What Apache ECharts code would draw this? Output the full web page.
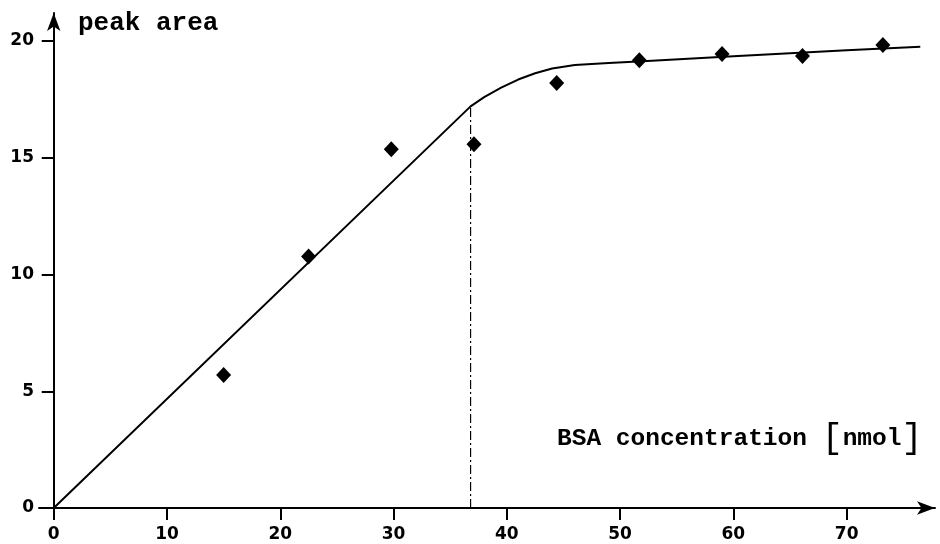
<!DOCTYPE html>
<html>
<head>
<meta charset="utf-8">
<script src="https://cdn.jsdelivr.net/npm/echarts@6/dist/echarts.min.js"></script>
<style>
  html, body { margin: 0; padding: 0; background: #fff; }
  #chart { width: 940px; height: 544px; }
</style>
</head>
<body>
<div id="chart"></div>
<script>
// measured points (BSA concentration, peak area)
const pointX = [15.0, 22.5, 29.8, 37.1, 44.4, 51.7, 59.0, 66.1, 73.2];
const pointY = [5.7, 10.77, 15.36, 15.58, 18.2, 19.18, 19.44, 19.36, 19.83];

// hand drawn fit curve
const curveX = [0, 36.8, 38, 39.5, 41, 42.5, 44, 46, 49, 52, 60, 70, 76.5];
const curveY = [0, 17.2, 17.6, 18.0, 18.35, 18.62, 18.82, 18.97, 19.06, 19.13, 19.35, 19.6, 19.75];

// saturation marker
const breakX = 36.8;
const breakY = 17.2;

const xTicks = [0, 10, 20, 30, 40, 50, 60, 70];
const yTicks = [0, 5, 10, 15, 20];

const labelFont = { color: '#000', fontFamily: 'DejaVu Sans', fontSize: 17, fontWeight: 'bold' };

const chart = echarts.init(document.getElementById('chart'));

chart.setOption({
  animation: false,
  backgroundColor: '#fff',
  grid: { left: 39, right: 5, top: 13, bottom: 36, containLabel: false, outerBoundsMode: 'none' },
  xAxis: {
    type: 'value',
    min: -1.3,
    max: 77.8,
    splitLine: { show: false },
    axisLine: {
      onZero: false,
      symbol: ['none', 'arrow'],
      symbolSize: [10, 18],
      lineStyle: { color: '#000', width: 2 }
    },
    axisTick: { length: 12, customValues: xTicks, lineStyle: { color: '#000', width: 2 } },
    axisLabel: Object.assign({ margin: 18, customValues: xTicks }, labelFont)
  },
  yAxis: {
    type: 'value',
    min: 0,
    max: 21.2,
    splitLine: { show: false },
    axisLine: {
      onZero: true,
      symbol: ['none', 'arrow'],
      symbolSize: [10, 18],
      lineStyle: { color: '#000', width: 2 }
    },
    axisTick: { length: 12, customValues: yTicks, lineStyle: { color: '#000', width: 2 } },
    axisLabel: Object.assign({ margin: 5, customValues: yTicks }, labelFont)
  },
  graphic: [
    {
      type: 'text', left: 78, top: 10,
      style: { text: 'peak area', font: 'bold 26px "Liberation Mono"', fill: '#000' }
    },
    {
      type: 'text', left: 557, top: 421,
      style: {
        text: '{t|BSA concentration }{b|[}{t|nmol}{b|]}',
        rich: {
          t: { font: 'bold 24.5px "Liberation Mono"', fill: '#000' },
          b: { font: '35px "Liberation Mono"', fill: '#000' }
        }
      }
    }
  ],
  series: [
    {
      type: 'line',
      data: curveX.map((x, i) => [x, curveY[i]]),
      symbol: 'none',
      lineStyle: { color: '#000', width: 2 },
      z: 3
    },
    {
      type: 'line',
      data: [[breakX, 0], [breakX, breakY]],
      symbol: 'none',
      lineStyle: { color: '#000', width: 1.2, type: [9, 3, 2, 3] },
      z: 2
    },
    {
      type: 'scatter',
      data: pointX.map((x, i) => [x, pointY[i]]),
      symbol: 'diamond',
      symbolSize: [15, 16],
      itemStyle: { color: '#000', opacity: 1 },
      z: 4
    }
  ]
});
</script>
</body>
</html>
